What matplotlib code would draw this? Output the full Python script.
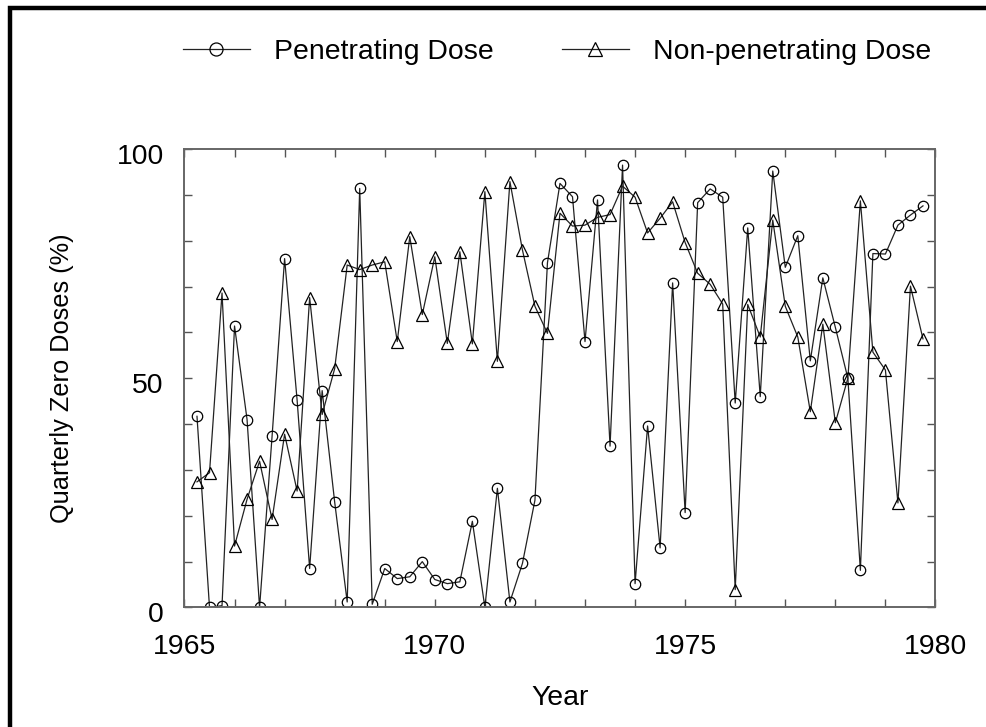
import matplotlib
matplotlib.use('Agg')
import matplotlib.pyplot as plt
import matplotlib.transforms as mtransforms
import numpy as np
from matplotlib.patches import Rectangle

plt.rcParams['font.family'] = ['Liberation Sans', 'DejaVu Sans']

# quarterly sample dates, 1965 Q2 .. 1979 Q4
years = np.arange(1965.25, 1980.0, 0.25)

penetrating = [41.7, 0.0, 0.4, 61.4, 41.0, 0.0, 37.4, 76.1, 45.2, 8.5,
               47.3, 23.0, 1.2, 91.4, 0.7, 8.5, 6.3, 6.7, 10.0, 6.1,
               5.2, 5.6, 18.8, 0.0, 26.0, 1.2, 9.6, 23.4, 75.2, 92.5,
               89.6, 58.0, 88.9, 35.2, 96.5, 5.2, 39.6, 13.0, 70.8, 20.7,
               88.3, 91.3, 89.5, 44.6, 82.8, 46.0, 95.2, 74.2, 81.1, 53.8,
               71.9, 61.1, 50.0, 8.1, 77.2, 77.1, 83.4, 85.6, 87.6]

non_penetrating = [27.4, 29.4, 68.6, 13.4, 23.6, 31.9, 19.2, 37.8, 25.4, 67.6,
                   42.1, 52.1, 74.7, 73.7, 74.7, 75.4, 58.0, 80.9, 63.9, 76.5,
                   57.6, 77.6, 57.5, 90.7, 53.7, 92.9, 78.0, 65.7, 59.8, 86.0,
                   83.2, 83.4, 85.1, 85.7, 91.9, 89.5, 81.7, 84.9, 88.5, 79.6,
                   72.9, 70.5, 66.2, 3.9, 66.1, 59.0, 84.5, 65.7, 59.0, 42.7,
                   61.8, 40.3, 50.0, 88.7, 55.7, 51.8, 22.8, 70.1, 58.6]

fig = plt.figure(figsize=(9.87, 7.27), dpi=100)
ax = fig.add_axes([0.1869, 0.1644, 0.7609, 0.6306])

line_kw = dict(color='#222222', linewidth=0.9, markerfacecolor='none',
               markeredgecolor='black', markeredgewidth=0.9)
ax.plot(years, penetrating, marker='o', markersize=7.5, label='Penetrating Dose', **line_kw)
ax.plot(years, non_penetrating, marker='^', markersize=8, label='Non-penetrating Dose', **line_kw)

ax.set_xlim(1965, 1980)
ax.set_ylim(0, 100)
ax.set_xticks([1965, 1970, 1975, 1980])
ax.set_xticks(np.arange(1965, 1981, 1), minor=True)
ax.set_yticks([0, 50, 100])
ax.set_yticks(np.arange(0, 101, 10), minor=True)
ax.tick_params(which='both', direction='in', top=True, right=True,
               length=6, width=1.0, color='#555555')
ax.tick_params(axis='x', which='major', labelsize=20.4, pad=19)
ax.tick_params(axis='y', which='major', labelsize=20.4, pad=15)
for s in ax.spines.values():
    s.set_color('#666666')
    s.set_linewidth(1.4)

# y tick labels sit a little below their ticks in the original
shift = mtransforms.ScaledTranslation(0, -0.05, fig.dpi_scale_trans)
for lab in ax.get_yticklabels():
    lab.set_transform(lab.get_transform() + shift)

fig.text(560 / 987, 1 - 698 / 727, 'Year', ha='center', va='center', fontsize=20.4)
fig.text(62 / 987, 1 - 378 / 727, 'Quarterly Zero Doses (%)', rotation=90,
         ha='center', va='center', fontsize=18.3)

fig.legend(loc='center', bbox_to_anchor=(557 / 987, 1 - 52 / 727), ncol=2,
           frameon=False, fontsize=20.4, handlelength=2.37, handletextpad=0.85,
           columnspacing=2.4, markerscale=1.25, borderpad=0)

# black frame (left and top edges visible in the crop)
fig.patches.append(Rectangle((10 / 987, -0.2), 1.5, 1.2 - 7.5 / 727,
                             transform=fig.transFigure, fill=False,
                             edgecolor='black', linewidth=3.2, clip_on=False))

fig.savefig('out.png', dpi=100)
